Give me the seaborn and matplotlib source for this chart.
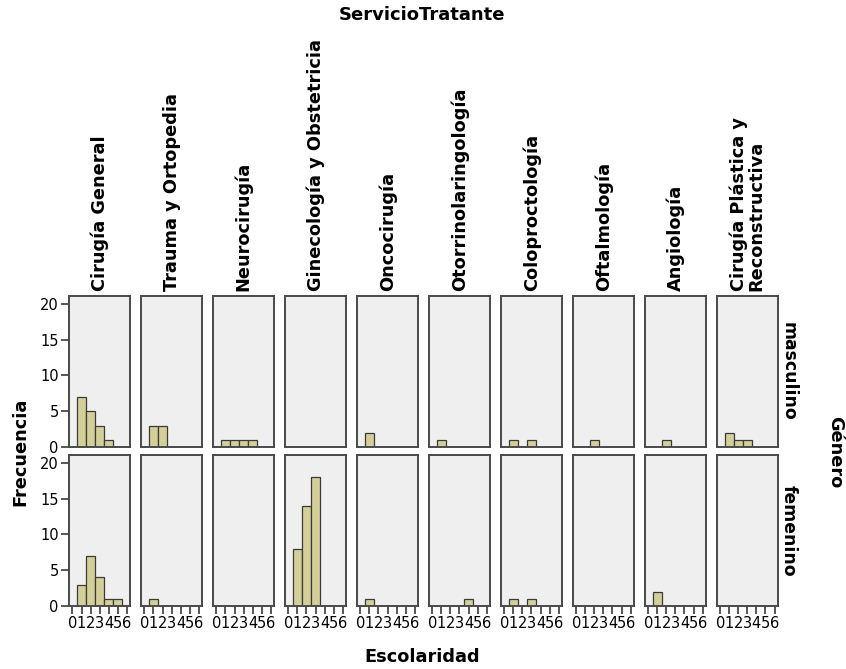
import matplotlib
matplotlib.use("Agg")
import matplotlib.pyplot as plt
import seaborn as sns
import pandas as pd

# Services (columns), gender (rows), schooling level (x)
servicios = [
    "Cirugía General", "Trauma y Ortopedia", "Neurocirugía",
    "Ginecología y Obstetricia", "Oncocirugía", "Otorrinolaringología",
    "Coloproctología", "Oftalmología", "Angiología",
    "Cirugía Plástica y\nReconstructiva",
]
generos = ["masculino", "femenino"]
escolaridad = [0, 1, 2, 3, 4, 5, 6]

# Frequency per schooling level (0..6) for each service
frec_masculino = [
    [0, 7, 5, 3, 1, 0, 0],
    [0, 3, 3, 0, 0, 0, 0],
    [0, 1, 1, 1, 1, 0, 0],
    [0, 0, 0, 0, 0, 0, 0],
    [0, 2, 0, 0, 0, 0, 0],
    [0, 1, 0, 0, 0, 0, 0],
    [0, 1, 0, 1, 0, 0, 0],
    [0, 0, 1, 0, 0, 0, 0],
    [0, 0, 1, 0, 0, 0, 0],
    [0, 2, 1, 1, 0, 0, 0],
]
frec_femenino = [
    [0, 3, 7, 4, 1, 1, 0],
    [0, 1, 0, 0, 0, 0, 0],
    [0, 0, 0, 0, 0, 0, 0],
    [0, 8, 14, 18, 0, 0, 0],
    [0, 1, 0, 0, 0, 0, 0],
    [0, 0, 0, 0, 1, 0, 0],
    [0, 1, 0, 1, 0, 0, 0],
    [0, 0, 0, 0, 0, 0, 0],
    [0, 2, 0, 0, 0, 0, 0],
    [0, 0, 0, 0, 0, 0, 0],
]

rows = []
for g, tabla in zip(generos, [frec_masculino, frec_femenino]):
    for s, cuentas in zip(servicios, tabla):
        for e, n in zip(escolaridad, cuentas):
            rows.append({"Género": g, "Servicio": s, "Escolaridad": e, "Frecuencia": n})
df = pd.DataFrame(rows)

sns.set_style("white")
plt.rcParams["font.family"] = ["DejaVu Sans"]
plt.rcParams["text.color"] = "black"
plt.rcParams["xtick.color"] = "black"
plt.rcParams["ytick.color"] = "black"

PANEL_BG = "#EFEFEF"
BAR_COLOR = "#D4CF98"
EDGE = "#3A3A3A"
SPINE = "#4A4A4A"

fig, axes = plt.subplots(2, len(servicios), figsize=(8.46, 6.69), dpi=100,
                         sharex=True, sharey=True)
fig.subplots_adjust(left=69 / 846, right=778 / 846, top=1 - 296 / 669,
                    bottom=1 - 606 / 669, wspace=0.175, hspace=0.053)

for r, g in enumerate(generos):
    for c, s in enumerate(servicios):
        ax = axes[r, c]
        sub = df[(df["Género"] == g) & (df["Servicio"] == s) & (df["Frecuencia"] > 0)]
        if len(sub):
            sns.histplot(data=sub, x="Escolaridad", weights="Frecuencia",
                         discrete=True, shrink=1, color=BAR_COLOR, alpha=1,
                         edgecolor=EDGE, linewidth=0.9, ax=ax)
        ax.set_facecolor(PANEL_BG)
        ax.set_xlim(-0.38, 6.38)
        ax.set_ylim(0, 21.1)
        ax.set_xticks(escolaridad)
        ax.set_yticks([0, 5, 10, 15, 20])
        ax.set_xlabel("")
        ax.set_ylabel("")
        for sp in ax.spines.values():
            sp.set_visible(True)
            sp.set_color(SPINE)
            sp.set_linewidth(1.4)
        ax.tick_params(axis="both", direction="out", length=6, width=1.3,
                       color=SPINE, labelcolor="black", labelsize=10.5, pad=1.5)
        ax.tick_params(axis="x", labelbottom=(r == 1), bottom=(r == 1))
        ax.tick_params(axis="y", left=(c == 0), labelleft=(c == 0))
        if r == 1:
            ax.set_xticklabels([str(v) for v in escolaridad])
        if r == 0:
            ax.text(0.5, 1.03, s, transform=ax.transAxes, rotation=90,
                    ha="center", va="bottom", fontsize=12.8, fontweight="bold",
                    multialignment="left", linespacing=1.0)
        if c == len(servicios) - 1:
            ax.text(1.17, 0.5, g, transform=ax.transAxes, rotation=-90,
                    ha="center", va="center", fontsize=12.4, fontweight="bold")

fig.text(422 / 846, 1 - 15 / 669, "ServicioTratante", ha="center", va="center",
         fontsize=13, fontweight="bold")
fig.text(422 / 846, 1 - 657 / 669, "Escolaridad", ha="center", va="center",
         fontsize=12.8, fontweight="bold")
fig.text(20 / 846, 1 - 452 / 669, "Frecuencia", ha="center", va="center",
         rotation=90, fontsize=12.8, fontweight="bold")
fig.text(835 / 846, 1 - 452 / 669, "Género", ha="center", va="center",
         rotation=-90, fontsize=12.8, fontweight="bold")

fig.savefig("out.png", dpi=100)
